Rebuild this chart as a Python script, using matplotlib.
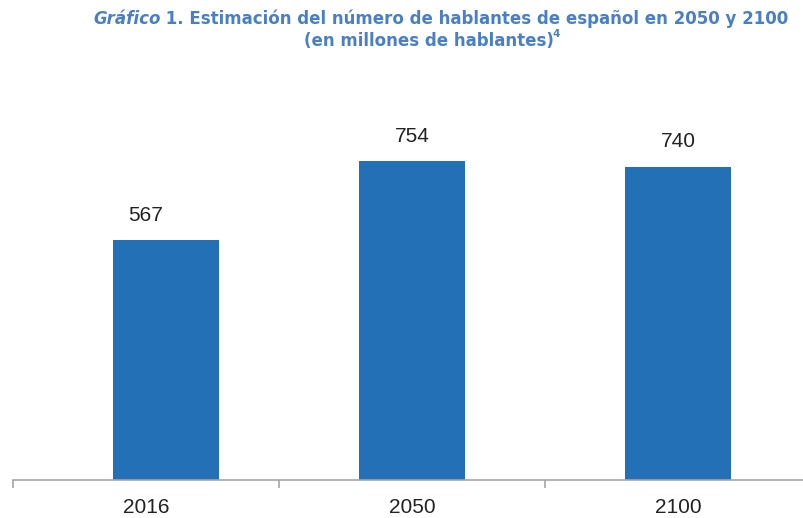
import matplotlib
matplotlib.use("Agg")
import matplotlib.pyplot as plt

# data
years = ["2016", "2050", "2100"]
speakers = [567, 754, 740]

title_italic = "Gráfico"
title_rest = " 1. Estimación del número de hablantes de español en 2050 y 2100"
subtitle = "(en millones de hablantes)"
footnote = "4"

title_color = "#4a7fc4"
bar_color = "#2370b6"
num_font = "Liberation Sans"
title_font = "DejaVu Sans"

fig = plt.figure(figsize=(8.04, 5.18), dpi=100)
ax = fig.add_axes([13 / 804, 38 / 518, 791 / 804, 381 / 518])

x = list(range(len(years)))
# in the original the first bar sits a little right of its label
bar_shift = [0.075, 0, 0]
ax.bar([a + b for a, b in zip(x, bar_shift)], speakers, width=0.4, color=bar_color, zorder=2)

for xi, v in zip(x, speakers):
    ax.annotate(str(v), (xi, v), xytext=(0, 11), textcoords="offset points",
                ha="center", va="bottom", fontsize=15, family=num_font, color="#222222")

ax.set_xlim(-0.5, 2.474)
ax.set_ylim(0, 900)
ax.set_yticks([])
for s in ["left", "right", "top"]:
    ax.spines[s].set_visible(False)
ax.spines["bottom"].set_color("#a6a6a6")
ax.spines["bottom"].set_linewidth(1.2)

ax.set_xticks(x)
ax.set_xticklabels(years, fontsize=15, family=num_font, color="#222222")
ax.tick_params(axis="x", which="major", length=0, pad=13)
ax.set_xticks([-0.5, 0.5, 1.5], minor=True)
ax.tick_params(axis="x", which="minor", length=6, color="#a6a6a6", width=1.2)

# title built from pieces
t1 = fig.text(93 / 804, 1 - 24 / 518, title_italic, fontsize=12, fontweight="bold",
              style="italic", color=title_color, ha="left", va="baseline", family=title_font)
ax.annotate(title_rest, xy=(1, 0), xycoords=t1, xytext=(0, 0), textcoords="offset points",
            fontsize=12, fontweight="bold", color=title_color, ha="left", va="bottom",
            annotation_clip=False, family=title_font)
t2 = fig.text(429 / 804, 1 - 46 / 518, subtitle, fontsize=12, fontweight="bold",
              color=title_color, ha="center", va="baseline", family=title_font)
ax.annotate(footnote, xy=(1, 0.6), xycoords=t2, xytext=(-1, 0), textcoords="offset points",
            fontsize=7.5, fontweight="bold", color=title_color, ha="left", va="bottom",
            annotation_clip=False, family=title_font)

fig.savefig("out.png", dpi=100)
